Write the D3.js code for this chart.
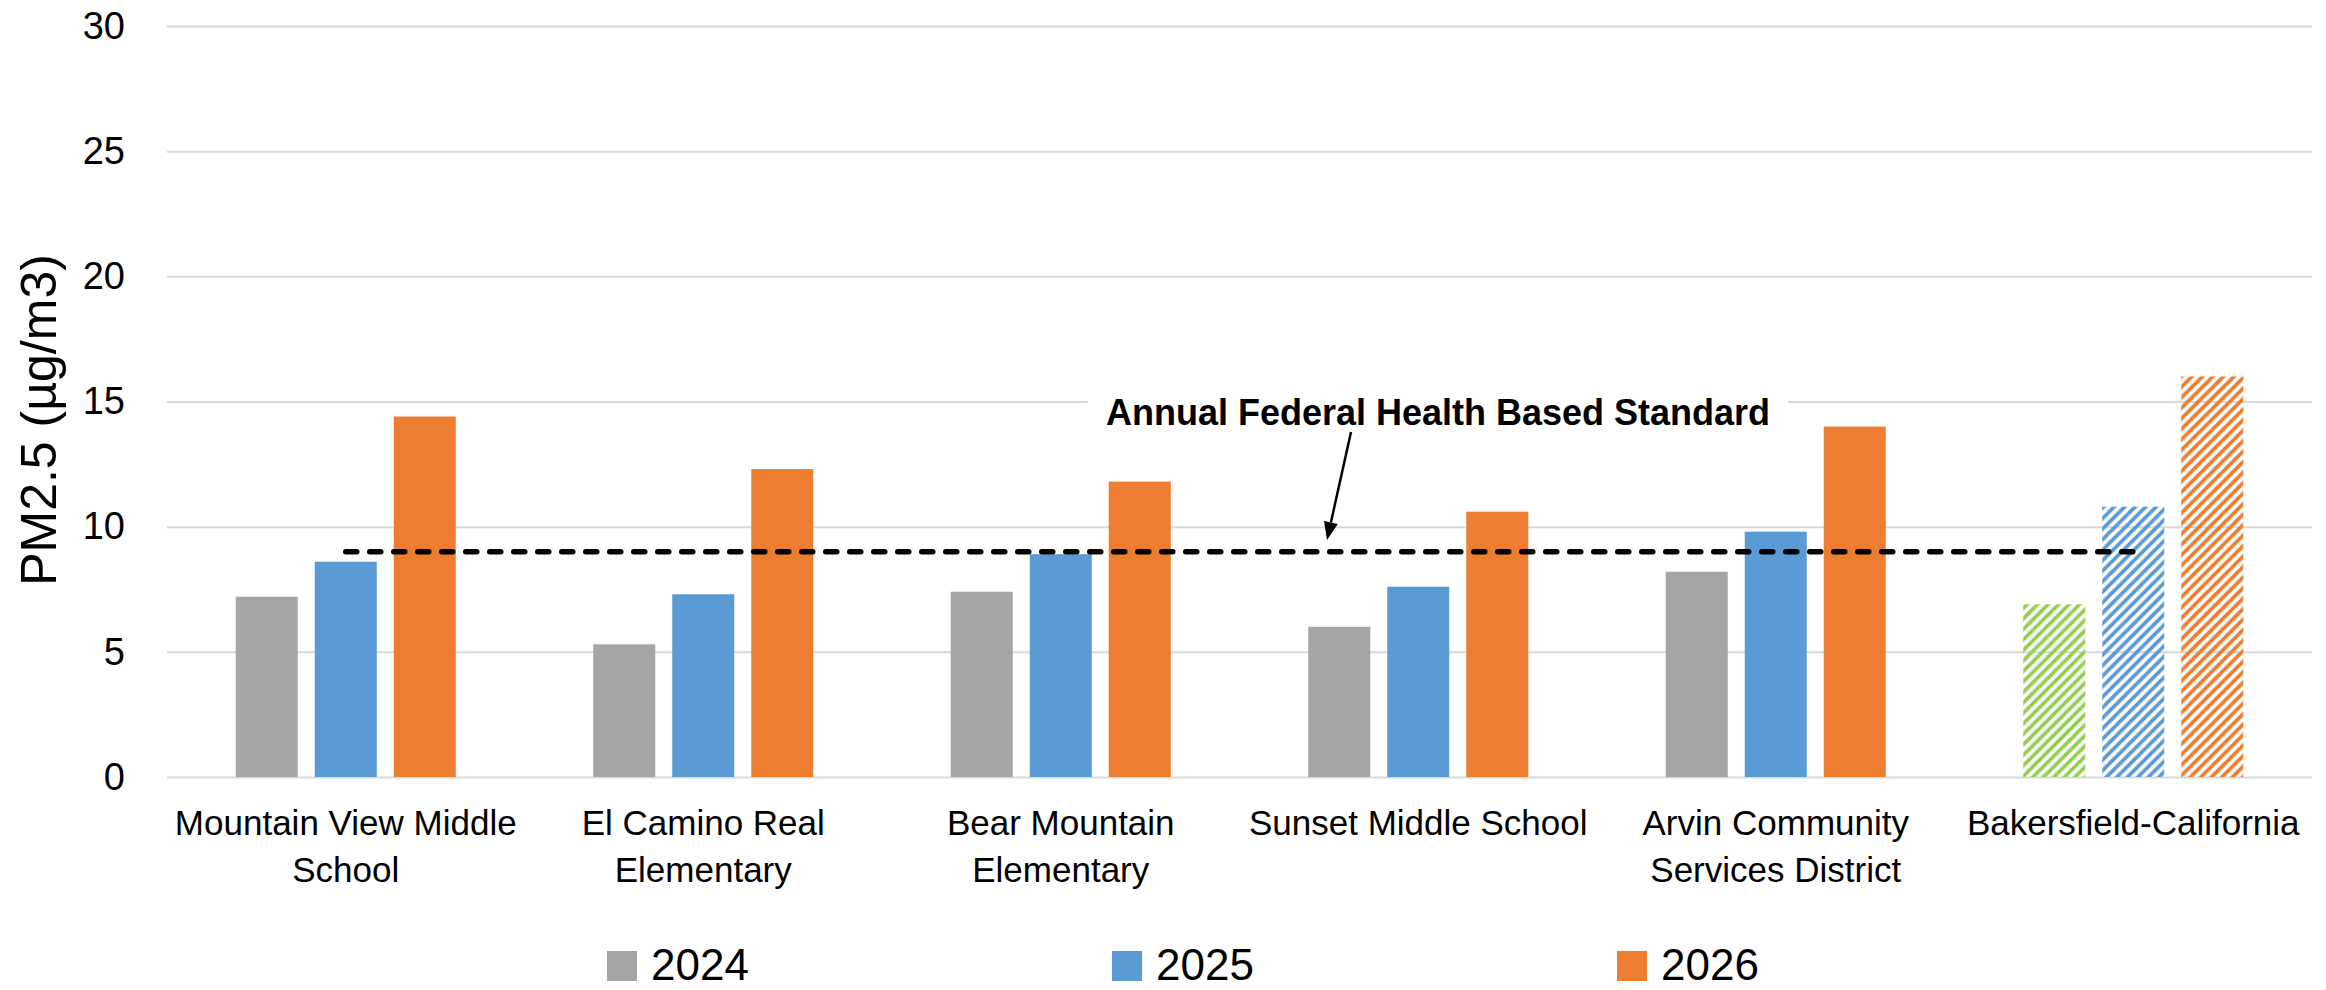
<!DOCTYPE html>
<html>
<head>
<meta charset="utf-8">
<script src="https://cdn.jsdelivr.net/npm/d3@7"></script>
<style>
  body { margin: 0; background: #fff; }
  text { font-family: "Liberation Sans", Arial, sans-serif; fill: #000; }
</style>
</head>
<body>
<div id="chart"></div>
<script>
// chart data
const categories = ["Mountain View Middle\nSchool", "El Camino Real\nElementary", "Bear Mountain\nElementary",
                    "Sunset Middle School", "Arvin Community\nServices District", "Bakersfield-California"];
const series = ["2024", "2025", "2026"];
const values2024 = [7.2, 5.3, 7.4, 6.0, 8.2, 6.9];
const values2025 = [8.6, 7.3, 8.9, 7.6, 9.8, 10.8];
const values2026 = [14.4, 12.3, 11.8, 10.6, 14.0, 16.0];
const hatchedCategory = "Bakersfield-California";
const yTicks = [0, 5, 10, 15, 20, 25, 30];
const standardValue = 9;
const standardLabel = "Annual Federal Health Based Standard";
const yTitle = "PM2.5 (µg/m3)";

const seriesColors = ["#a5a5a5", "#5b9bd5", "#ed7d31"];
const hatchColors = ["#92d050", "#5b9bd5", "#ed7d31"];

const svgWidth = 2326, svgHeight = 990;
const margin = {top: 26, right: 14, bottom: 213, left: 167},
      width = svgWidth - margin.left - margin.right,
      height = svgHeight - margin.top - margin.bottom;

const svg = d3.select("#chart").append("svg")
    .attr("width", svgWidth)
    .attr("height", svgHeight);

// diagonal hatch patterns for the last group
const defs = svg.append("defs");
hatchColors.forEach((c, i) => {
    const p = defs.append("pattern")
        .attr("id", "hatch" + i)
        .attr("patternUnits", "userSpaceOnUse")
        .attr("width", 10.5)
        .attr("height", 10.5);
    p.append("path")
        .attr("d", "M-2.625,2.625 l5.25,-5.25 M0,10.5 l10.5,-10.5 M7.875,13.125 l5.25,-5.25")
        .attr("stroke", c)
        .attr("stroke-width", 3.8);
});

const g = svg.append("g")
    .attr("transform", "translate(" + margin.left + "," + margin.top + ")");

// scales
const x0 = d3.scaleBand().domain(categories).range([0, width]);
const x1 = d3.scaleBand().domain(series).range([0, x0.bandwidth()])
    .paddingInner(0.215).paddingOuter(0.87);
const y = d3.scaleLinear().domain([0, 30]).range([height, 0]);

// gridlines
g.append("g")
    .attr("class", "grid")
    .call(d3.axisLeft(y).tickValues(yTicks).tickSize(-width).tickFormat(""))
    .call(a => a.select(".domain").remove())
    .call(a => a.selectAll("line").attr("stroke", "#d9d9d9").attr("stroke-width", 2));

// y tick labels
g.append("g")
    .call(d3.axisLeft(y).tickValues(yTicks).tickSize(0).tickPadding(42))
    .call(a => a.select(".domain").remove())
    .call(a => a.selectAll("text").attr("font-size", 38).attr("font-family", null));

// bars
const rows = categories.map((c, i) => ({category: c, values: [values2024[i], values2025[i], values2026[i]]}));

g.append("g")
    .selectAll("g")
    .data(rows)
    .join("g")
    .attr("transform", d => "translate(" + x0(d.category) + ",0)")
    .selectAll("rect")
    .data(d => d.values.map((v, j) => ({key: series[j], value: v, j: j, hatched: d.category === hatchedCategory})))
    .join("rect")
    .attr("x", d => x1(d.key))
    .attr("width", x1.bandwidth())
    .attr("y", d => y(d.value))
    .attr("height", d => y(0) - y(d.value))
    .attr("fill", d => d.hatched ? "url(#hatch" + d.j + ")" : seriesColors[d.j]);

// standard dashed line, from first group centre to last group centre
const first = categories[0], last = categories[categories.length - 1];
g.append("line")
    .attr("x1", x0(first) + x0.bandwidth() / 2)
    .attr("x2", x0(last) + x0.bandwidth() / 2)
    .attr("y1", y(standardValue))
    .attr("y2", y(standardValue))
    .attr("stroke", "#000")
    .attr("stroke-width", 5.5)
    .attr("stroke-dasharray", "11,13")
    .attr("stroke-linecap", "round");

// category labels
const catLabels = g.append("g");
categories.forEach(c => {
    const t = catLabels.append("text")
        .attr("text-anchor", "middle")
        .attr("font-size", 35)
        .attr("x", x0(c) + x0.bandwidth() / 2)
        .attr("y", height + 58);
    c.split("\n").forEach((line, k) => {
        t.append("tspan")
            .attr("x", x0(c) + x0.bandwidth() / 2)
            .attr("dy", k === 0 ? 0 : 47)
            .text(line);
    });
});

// y axis title
svg.append("text")
    .attr("transform", "translate(56,420) rotate(-90)")
    .attr("text-anchor", "middle")
    .attr("font-size", 50)
    .text(yTitle);

// annotation
const note = svg.append("g");
const noteBox = note.append("rect").attr("fill", "#fff");
const noteText = note.append("text")
    .attr("x", 1438)
    .attr("y", 425)
    .attr("text-anchor", "middle")
    .attr("font-size", 36)
    .attr("font-weight", "bold")
    .text(standardLabel);
const bb = noteText.node().getBBox();
noteBox.attr("x", bb.x - 18).attr("y", bb.y - 4).attr("width", bb.width + 36).attr("height", bb.height + 8);

// arrow from label to the line
const ax1 = 1351, ay1 = 432, ax2 = 1327, ay2 = 540;
const ang = Math.atan2(ay2 - ay1, ax2 - ax1), headLen = 18, headW = 7;
const bx = ax2 - headLen * Math.cos(ang), by = ay2 - headLen * Math.sin(ang);
note.append("line")
    .attr("x1", ax1).attr("y1", ay1).attr("x2", bx).attr("y2", by)
    .attr("stroke", "#000").attr("stroke-width", 2.5);
note.append("path")
    .attr("d", "M" + ax2 + "," + ay2 +
        "L" + (bx + headW * Math.sin(ang)) + "," + (by - headW * Math.cos(ang)) +
        "L" + (bx - headW * Math.sin(ang)) + "," + (by + headW * Math.cos(ang)) + "Z")
    .attr("fill", "#000");

// legend
const legend = svg.append("g");
series.forEach((s, i) => {
    const lx = 607 + i * 505;
    legend.append("rect")
        .attr("x", lx).attr("y", 951)
        .attr("width", 30).attr("height", 30)
        .attr("fill", seriesColors[i]);
    legend.append("text")
        .attr("x", lx + 44).attr("y", 980)
        .attr("font-size", 44)
        .text(s);
});
</script>
</body>
</html>
